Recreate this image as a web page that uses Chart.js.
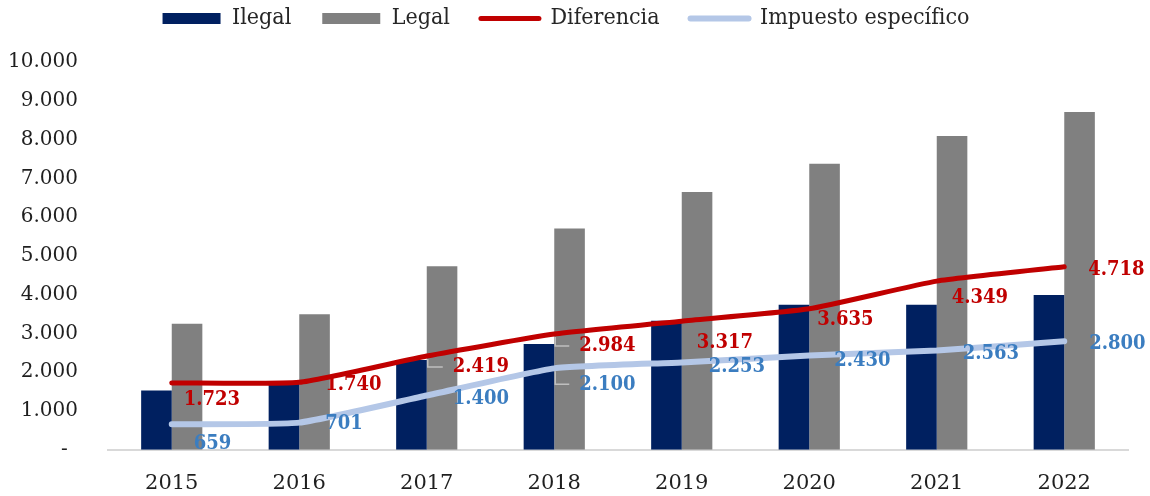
<!DOCTYPE html>
<html lang="es">
<head>
    <meta charset="UTF-8">
    <title>Ilegal vs Legal</title>
    <script src="https://cdn.jsdelivr.net/npm/chart.js"></script>
    <style>
        * { margin: 0; padding: 0; box-sizing: border-box; }
        body { background: #ffffff; }
        .wrap { width: 1150px; height: 496px; position: relative; }
    </style>
</head>
<body>
    <div class="wrap"><canvas id="chart"></canvas></div>

    <script>
        const years = ['2015', '2016', '2017', '2018', '2019', '2020', '2021', '2022'];
        const ilegal = [1530, 1756, 2314, 2725, 3330, 3740, 3740, 3990];
        const legal = [3253, 3496, 4733, 5709, 6647, 7375, 8089, 8708];
        const diferencia = [1723, 1740, 2419, 2984, 3317, 3635, 4349, 4718];
        const impuesto = [659, 701, 1400, 2100, 2253, 2430, 2563, 2800];

        // where each value label sits relative to its point: [dx to text start, dy to text middle]
        const difOffsets = [[12, 17], [26, 2], [26, 11], [25, 12], [15, 22], [8, 11], [15, 17], [24, 3]];
        const impOffsets = [[22, 20], [26, 1], [26, 3], [25, 16], [27, 4], [25, 5], [26, 3], [25, 3]];
        const difLeaders = [false, false, true, true, false, false, false, false];
        const impLeaders = [false, false, false, true, false, false, false, false];

        const serif = '"DejaVu Serif", serif';
        const condensed = '"DejaVu Serif Condensed", "DejaVu Serif", serif';

        function fmt(v) {
            return v.toString().replace(/\B(?=(\d{3})+(?!\d))/g, '.');
        }

        // value labels for the two lines (no datalabels plugin offline)
        const lineLabels = {
            id: 'lineLabels',
            afterDatasetsDraw(chart) {
                const ctx = chart.ctx;
                chart.data.datasets.forEach((ds, i) => {
                    if (!ds.labelOffsets) return;
                    const meta = chart.getDatasetMeta(i);
                    meta.data.forEach((pt, j) => {
                        const x = pt.x + ds.labelOffsets[j][0];
                        const y = pt.y + ds.labelOffsets[j][1];
                        ctx.save();
                        if (ds.leaders[j]) {
                            ctx.strokeStyle = '#bfbfbf';
                            ctx.lineWidth = 1.5;
                            ctx.beginPath();
                            ctx.moveTo(pt.x + 1, pt.y + 3);
                            ctx.lineTo(pt.x + 1, y);
                            ctx.lineTo(x - 10, y);
                            ctx.stroke();
                        }
                        ctx.font = 'bold 20px ' + condensed;
                        ctx.fillStyle = ds.labelColor;
                        ctx.textAlign = 'left';
                        ctx.textBaseline = 'middle';
                        ctx.fillText(fmt(ds.data[j]), x, y);
                        ctx.restore();
                    });
                });
            }
        };

        new Chart(document.getElementById('chart'), {
            data: {
                labels: years,
                datasets: [
                    { type: 'bar', label: 'Ilegal', data: ilegal, backgroundColor: '#002060', order: 2 },
                    { type: 'bar', label: 'Legal', data: legal, backgroundColor: '#808080', order: 2 },
                    {
                        type: 'line', label: 'Diferencia', data: diferencia,
                        borderColor: '#C00000', backgroundColor: '#C00000', borderWidth: 5,
                        pointRadius: 0, tension: 0.15, borderCapStyle: 'round', borderJoinStyle: 'round',
                        order: 0, labelOffsets: difOffsets, leaders: difLeaders, labelColor: '#C00000'
                    },
                    {
                        type: 'line', label: 'Impuesto específico', data: impuesto,
                        borderColor: '#B4C7E7', backgroundColor: '#B4C7E7', borderWidth: 6,
                        pointRadius: 0, tension: 0.15, borderCapStyle: 'round', borderJoinStyle: 'round',
                        order: 1, labelOffsets: impOffsets, leaders: impLeaders, labelColor: '#3B7DC0'
                    }
                ]
            },
            options: {
                responsive: true,
                maintainAspectRatio: false,
                animation: false,
                layout: { padding: { left: 4, right: 22, top: -24, bottom: -21 } },
                datasets: { bar: { barPercentage: 1, categoryPercentage: 0.48 } },
                plugins: {
                    tooltip: { enabled: false },
                    // empty title used only as a spacer between legend and plot
                    title: {
                        display: true,
                        text: '',
                        font: { size: 1, lineHeight: 1 },
                        padding: { top: 0, bottom: 21 }
                    },
                    legend: {
                        position: 'top',
                        weight: 3000,
                        labels: {
                            usePointStyle: true,
                            pointStyleWidth: 58,
                            boxHeight: 11,
                            padding: 31,
                            color: '#262626',
                            font: { family: condensed, size: 23 },
                            generateLabels(chart) {
                                const items = Chart.defaults.plugins.legend.labels.generateLabels(chart);
                                items.forEach(it => {
                                    const ds = chart.data.datasets[it.datasetIndex];
                                    if (ds.type === 'line') {
                                        it.pointStyle = 'line';
                                        it.strokeStyle = ds.borderColor;
                                        it.lineWidth = ds.borderWidth;
                                        it.lineCap = 'round';
                                    } else {
                                        it.pointStyle = 'rect';
                                        it.lineWidth = 0;
                                    }
                                });
                                return items.sort((a, b) => a.datasetIndex - b.datasetIndex);
                            }
                        }
                    }
                },
                scales: {
                    x: {
                        grid: { display: false, drawTicks: false },
                        border: { display: true, color: '#D9D9D9', width: 2 },
                        ticks: { color: '#1f1f1f', padding: 21, font: { family: serif, size: 21 } }
                    },
                    y: {
                        min: 0,
                        max: 10000,
                        grid: { display: false, drawTicks: false },
                        border: { display: false },
                        ticks: {
                            stepSize: 1000,
                            padding: 30,
                            color: '#1f1f1f',
                            font: { family: serif, size: 20 },
                            callback: v => v === 0 ? '-\u2009 ' : fmt(v)
                        },
                        afterFit(scale) { scale.width = 104; }
                    }
                }
            },
            plugins: [lineLabels]
        });
    </script>
</body>
</html>
